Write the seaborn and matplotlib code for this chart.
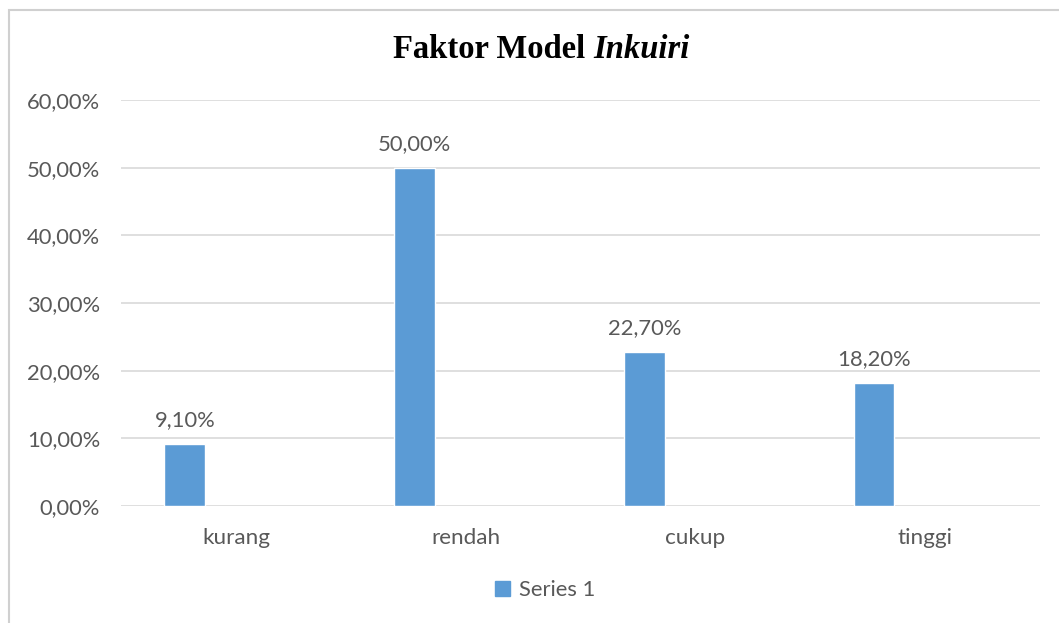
import pandas as pd
import matplotlib.pyplot as plt
import seaborn as sns
from matplotlib.patches import Rectangle, Patch
from matplotlib.ticker import FuncFormatter

# data
categories = ['kurang', 'rendah', 'cukup', 'tinggi']
series_1 = [9.10, 50.00, 22.70, 18.20]
# Excel kept two empty series next to Series 1, which pushes the bars left
series_names = ['Series 1', 'Series 2', 'Series 3']
y_ticks = [0, 10, 20, 30, 40, 50, 60]

BLUE = '#5B9BD5'
GRID = '#D9D9D9'
TEXT = '#595959'
FS = 15.8

rows = []
for name in series_names:
    for cat, val in zip(categories, series_1):
        rows.append({'kategori': cat, 'series': name,
                     'nilai': val if name == 'Series 1' else float('nan')})
df = pd.DataFrame(rows)

sns.set_style('white')
plt.rcParams['font.family'] = ['Lato', 'DejaVu Sans']

fig = plt.figure(figsize=(10.59, 6.23), dpi=100)
ax = fig.add_axes([121 / 1059, 1 - 506 / 623, 919 / 1059, 406 / 623])

sns.barplot(data=df, x='kategori', y='nilai', hue='series',
            order=categories, hue_order=series_names,
            palette=[BLUE, BLUE, BLUE], saturation=1, width=0.667, gap=0.2,
            errorbar=None, legend=False, ax=ax)

ax.set_ylim(0, 60)
ax.set_yticks(y_ticks)
ax.yaxis.set_major_formatter(FuncFormatter(lambda v, _: f'{v:.2f}%'.replace('.', ',')))
ax.grid(axis='y', color=GRID, linewidth=1.2)
ax.set_axisbelow(True)
sns.despine(ax=ax, left=True, bottom=True)
ax.set_xlabel('')
ax.set_ylabel('')
ax.tick_params(axis='y', length=0, pad=15, labelsize=FS, labelcolor=TEXT)
ax.tick_params(axis='x', length=0, pad=16, labelsize=16.2, labelcolor=TEXT)

bars = ax.containers[0]
ax.bar_label(bars, labels=[f'{v:.2f}%'.replace('.', ',') for v in series_1],
             padding=10, fontsize=FS, color=TEXT)

# title: bold serif, last word in italic, centred as one line
ty = 1 - 49 / 623
t1 = fig.text(0.5, ty, 'Faktor Model ', ha='left', va='center', color='black',
              fontsize=23.5, fontweight='bold', family='Liberation Serif')
t2 = fig.text(0.5, ty, 'Inkuiri', ha='left', va='center', color='black',
              fontsize=23.5, fontweight='bold', fontstyle='italic', family='Liberation Serif')
r = fig.canvas.get_renderer()
w1 = t1.get_window_extent(r).width / fig.bbox.width
w2 = t2.get_window_extent(r).width / fig.bbox.width
x0 = 541 / 1059 - (w1 + w2) / 2
t1.set_x(x0)
t2.set_x(x0 + w1)

ax.legend(handles=[Patch(color=BLUE, label='Series 1')], loc='center',
          bbox_to_anchor=(545 / 1059, 1 - 590 / 623), bbox_transform=fig.transFigure,
          frameon=False, fontsize=FS, labelcolor=TEXT,
          handlelength=0.7, handleheight=0.7, handletextpad=0.4)

# chart area border (left and top edges are visible in the crop)
fig.patches.append(Rectangle((9 / 1059, -0.1), 1.2, 1 - 10 / 623 + 0.1,
                             transform=fig.transFigure, fill=False,
                             edgecolor='#D0D0D0', linewidth=1.5))

fig.savefig('out.png', dpi=100)
